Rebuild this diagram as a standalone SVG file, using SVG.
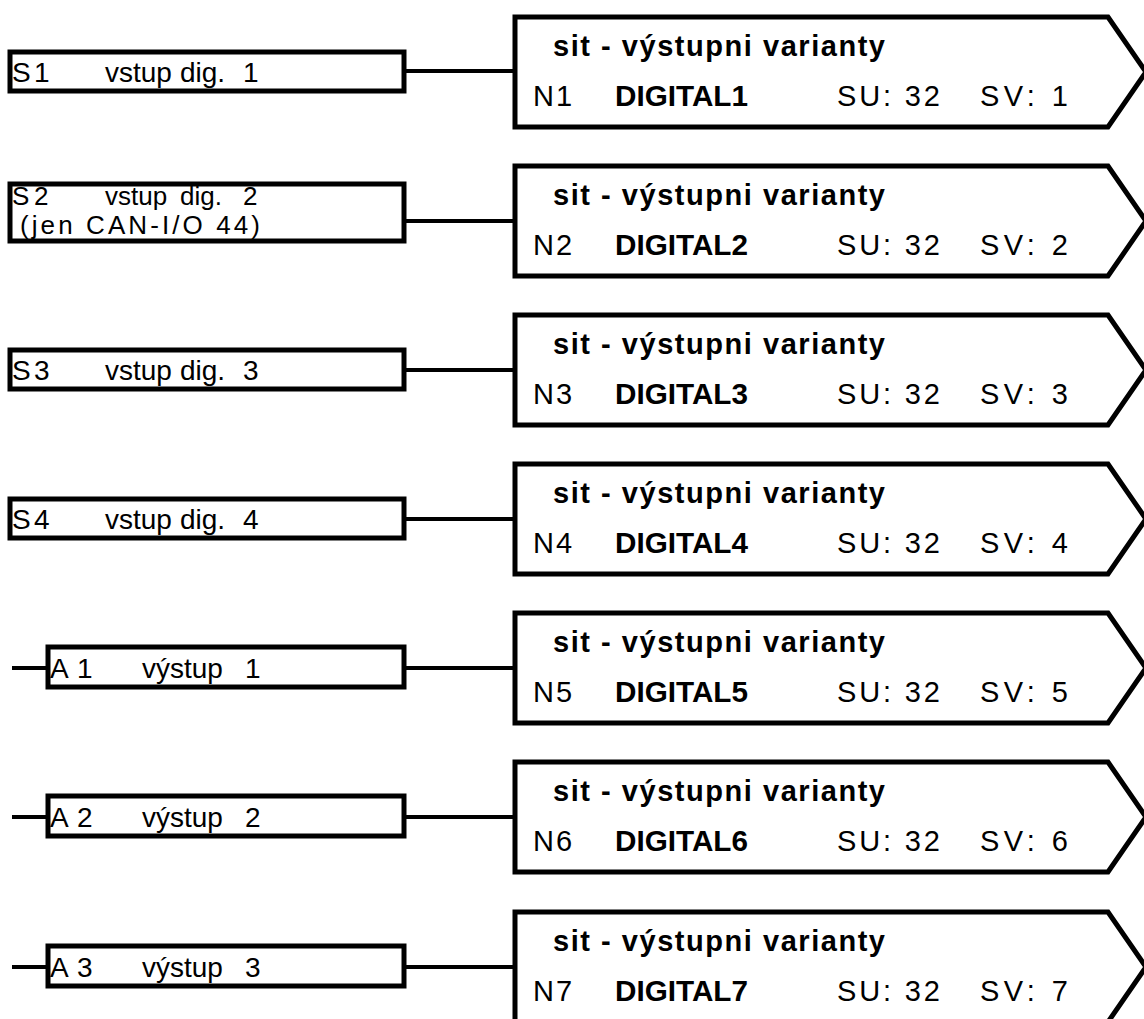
<svg xmlns="http://www.w3.org/2000/svg" width="1144" height="1019" viewBox="0 0 1144 1019">
<style>
.bg{fill:#fff}
.box{fill:#fff;stroke:#000;stroke-width:5}
.pent{fill:#fff;stroke:#000;stroke-width:5;stroke-linejoin:miter}
.wire{stroke:#000;stroke-width:4;fill:none}
.lt{font-family:"Liberation Sans",Arial,sans-serif;font-size:28px;fill:#000}
.lt2{font-family:"Liberation Sans",Arial,sans-serif;font-size:26px;fill:#000}
.rt{font-family:"Liberation Sans",Arial,sans-serif;font-size:29px;fill:#000}
.b{font-weight:bold}
</style>
<defs>
<path id="pent" d="M515,-55 H1108 L1146,0 L1108,55 H515 Z"/>
</defs>
<rect class="bg" x="0" y="0" width="1144" height="1019"/>

<g id="connectors">
<line class="wire" x1="404" y1="71" x2="515" y2="71"/>
<line class="wire" x1="404" y1="221" x2="515" y2="221"/>
<line class="wire" x1="404" y1="370" x2="515" y2="370"/>
<line class="wire" x1="404" y1="519" x2="515" y2="519"/>
<line class="wire" x1="404" y1="668" x2="515" y2="668"/>
<line class="wire" x1="404" y1="817" x2="515" y2="817"/>
<line class="wire" x1="404" y1="967" x2="515" y2="967"/>
<line class="wire" x1="12" y1="668" x2="48" y2="668" stroke-width="5"/>
<line class="wire" x1="12" y1="817" x2="48" y2="817" stroke-width="5"/>
<line class="wire" x1="12" y1="967" x2="48" y2="967" stroke-width="5"/>
</g>

<g id="S1" transform="translate(0,72)">
<rect class="box" x="10" y="-20" width="394" height="39"/>
<text class="lt" y="10"><tspan x="12">S</tspan><tspan x="34">1</tspan><tspan x="105">vstup</tspan><tspan x="180">dig.</tspan><tspan x="243">1</tspan></text>
</g>
<g id="S2" transform="translate(0,221)">
<rect class="box" x="10" y="-37" width="394" height="57"/>
<text class="lt2" y="-16"><tspan x="12">S</tspan><tspan x="34">2</tspan><tspan x="105">vstup</tspan><tspan x="180">dig.</tspan><tspan x="243">2</tspan></text>
<text class="lt2" x="20" y="13" textLength="240" lengthAdjust="spacing">(jen CAN-I/O 44)</text>
</g>
<g id="S3" transform="translate(0,370)">
<rect class="box" x="10" y="-20" width="394" height="39"/>
<text class="lt" y="10"><tspan x="12">S</tspan><tspan x="34">3</tspan><tspan x="105">vstup</tspan><tspan x="180">dig.</tspan><tspan x="243">3</tspan></text>
</g>
<g id="S4" transform="translate(0,519)">
<rect class="box" x="10" y="-20" width="394" height="39"/>
<text class="lt" y="10"><tspan x="12">S</tspan><tspan x="34">4</tspan><tspan x="105">vstup</tspan><tspan x="180">dig.</tspan><tspan x="243">4</tspan></text>
</g>
<g id="A1" transform="translate(0,668)">
<rect class="box" x="48" y="-21" width="356" height="40"/>
<text class="lt" y="10"><tspan x="50">A</tspan><tspan x="77">1</tspan><tspan x="142">výstup</tspan><tspan x="245">1</tspan></text>
</g>
<g id="A2" transform="translate(0,817)">
<rect class="box" x="48" y="-21" width="356" height="40"/>
<text class="lt" y="10"><tspan x="50">A</tspan><tspan x="77">2</tspan><tspan x="142">výstup</tspan><tspan x="245">2</tspan></text>
</g>
<g id="A3" transform="translate(0,967)">
<rect class="box" x="48" y="-21" width="356" height="40"/>
<text class="lt" y="10"><tspan x="50">A</tspan><tspan x="77">3</tspan><tspan x="142">výstup</tspan><tspan x="245">3</tspan></text>
</g>

<g id="N1" transform="translate(0,72)">
<use href="#pent" class="pent"/>
<text class="rt b" x="553" y="-16" textLength="332" lengthAdjust="spacing">sit - výstupni varianty</text>
<text class="rt" y="34"><tspan x="533">N</tspan><tspan x="556">1</tspan><tspan class="b" x="615" textLength="133" lengthAdjust="spacingAndGlyphs">DIGITAL1</tspan><tspan x="837" textLength="103" lengthAdjust="spacing">SU: 32</tspan><tspan x="980" textLength="88" lengthAdjust="spacing">SV: 1</tspan></text>
</g>
<g id="N2" transform="translate(0,221)">
<use href="#pent" class="pent"/>
<text class="rt b" x="553" y="-16" textLength="332" lengthAdjust="spacing">sit - výstupni varianty</text>
<text class="rt" y="34"><tspan x="533">N</tspan><tspan x="556">2</tspan><tspan class="b" x="615" textLength="133" lengthAdjust="spacingAndGlyphs">DIGITAL2</tspan><tspan x="837" textLength="103" lengthAdjust="spacing">SU: 32</tspan><tspan x="980" textLength="88" lengthAdjust="spacing">SV: 2</tspan></text>
</g>
<g id="N3" transform="translate(0,370)">
<use href="#pent" class="pent"/>
<text class="rt b" x="553" y="-16" textLength="332" lengthAdjust="spacing">sit - výstupni varianty</text>
<text class="rt" y="34"><tspan x="533">N</tspan><tspan x="556">3</tspan><tspan class="b" x="615" textLength="133" lengthAdjust="spacingAndGlyphs">DIGITAL3</tspan><tspan x="837" textLength="103" lengthAdjust="spacing">SU: 32</tspan><tspan x="980" textLength="88" lengthAdjust="spacing">SV: 3</tspan></text>
</g>
<g id="N4" transform="translate(0,519)">
<use href="#pent" class="pent"/>
<text class="rt b" x="553" y="-16" textLength="332" lengthAdjust="spacing">sit - výstupni varianty</text>
<text class="rt" y="34"><tspan x="533">N</tspan><tspan x="556">4</tspan><tspan class="b" x="615" textLength="133" lengthAdjust="spacingAndGlyphs">DIGITAL4</tspan><tspan x="837" textLength="103" lengthAdjust="spacing">SU: 32</tspan><tspan x="980" textLength="88" lengthAdjust="spacing">SV: 4</tspan></text>
</g>
<g id="N5" transform="translate(0,668)">
<use href="#pent" class="pent"/>
<text class="rt b" x="553" y="-16" textLength="332" lengthAdjust="spacing">sit - výstupni varianty</text>
<text class="rt" y="34"><tspan x="533">N</tspan><tspan x="556">5</tspan><tspan class="b" x="615" textLength="133" lengthAdjust="spacingAndGlyphs">DIGITAL5</tspan><tspan x="837" textLength="103" lengthAdjust="spacing">SU: 32</tspan><tspan x="980" textLength="88" lengthAdjust="spacing">SV: 5</tspan></text>
</g>
<g id="N6" transform="translate(0,817)">
<use href="#pent" class="pent"/>
<text class="rt b" x="553" y="-16" textLength="332" lengthAdjust="spacing">sit - výstupni varianty</text>
<text class="rt" y="34"><tspan x="533">N</tspan><tspan x="556">6</tspan><tspan class="b" x="615" textLength="133" lengthAdjust="spacingAndGlyphs">DIGITAL6</tspan><tspan x="837" textLength="103" lengthAdjust="spacing">SU: 32</tspan><tspan x="980" textLength="88" lengthAdjust="spacing">SV: 6</tspan></text>
</g>
<g id="N7" transform="translate(0,967)">
<use href="#pent" class="pent"/>
<text class="rt b" x="553" y="-16" textLength="332" lengthAdjust="spacing">sit - výstupni varianty</text>
<text class="rt" y="34"><tspan x="533">N</tspan><tspan x="556">7</tspan><tspan class="b" x="615" textLength="133" lengthAdjust="spacingAndGlyphs">DIGITAL7</tspan><tspan x="837" textLength="103" lengthAdjust="spacing">SU: 32</tspan><tspan x="980" textLength="88" lengthAdjust="spacing">SV: 7</tspan></text>
</g>
</svg>
